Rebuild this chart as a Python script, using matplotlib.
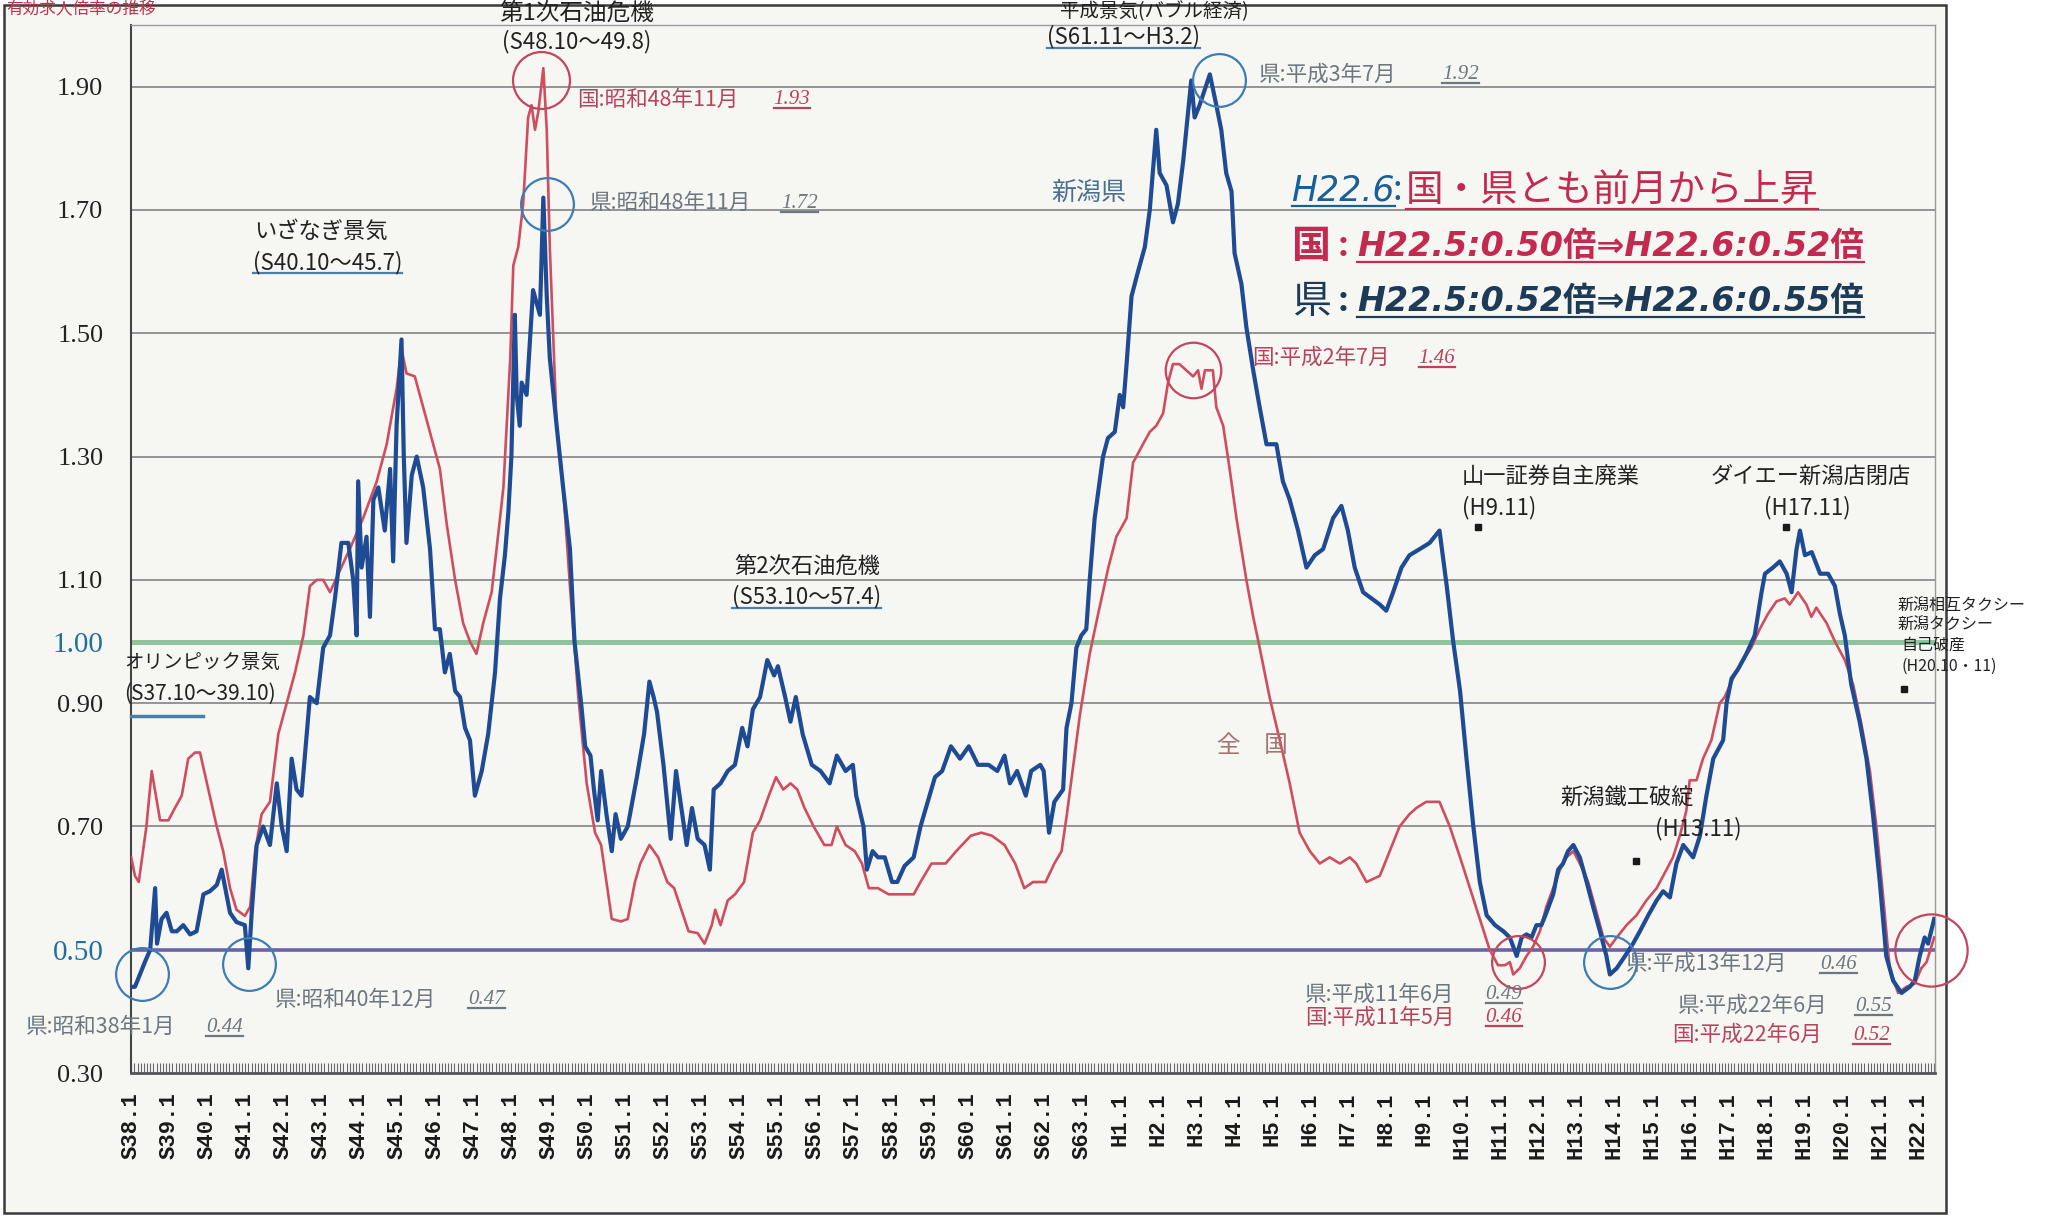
import numpy as np
import matplotlib
matplotlib.use("Agg")
import matplotlib.pyplot as plt
from matplotlib.lines import Line2D
from matplotlib.patches import Rectangle

plt.rcParams['font.family'] = ['Noto Sans CJK JP', 'DejaVu Sans']

# ---- data (fractional year, ratio) ----
niigata_t = [1963.00, 1963.10, 1963.36, 1963.50, 1963.63, 1963.68, 1963.80, 1963.93, 1964.07, 1964.20,
             1964.37, 1964.55, 1964.72, 1964.90, 1965.07, 1965.25, 1965.38, 1965.60, 1965.77, 1965.99,
             1966.08, 1966.17, 1966.30, 1966.47, 1966.65, 1966.83, 1966.96, 1967.09, 1967.22, 1967.35,
             1967.48, 1967.70, 1967.88, 1968.05, 1968.23, 1968.36, 1968.53, 1968.71, 1968.84, 1968.93,
             1968.97, 1969.06, 1969.19, 1969.28, 1969.37, 1969.50, 1969.67, 1969.81, 1969.89, 1969.98,
             1970.11, 1970.17, 1970.24, 1970.38, 1970.51, 1970.68, 1970.86, 1970.99, 1971.12, 1971.25,
             1971.38, 1971.52, 1971.65, 1971.78, 1971.91, 1972.04, 1972.22, 1972.39, 1972.57, 1972.70,
             1972.83, 1972.92, 1973.00, 1973.09, 1973.14, 1973.22, 1973.27, 1973.40, 1973.49, 1973.57,
             1973.75, 1973.84, 1973.93, 1974.01, 1974.19, 1974.36, 1974.54, 1974.66, 1974.85, 1974.94,
             1975.08, 1975.17, 1975.27, 1975.36, 1975.50, 1975.64, 1975.74, 1975.88, 1976.06, 1976.30,
             1976.49, 1976.63, 1976.74, 1976.83, 1977.00, 1977.19, 1977.33, 1977.47, 1977.61, 1977.75,
             1977.90, 1978.08, 1978.22, 1978.32, 1978.50, 1978.69, 1978.88, 1979.07, 1979.21, 1979.35,
             1979.54, 1979.73, 1979.91, 1980.01, 1980.20, 1980.34, 1980.48, 1980.66, 1980.90, 1981.13,
             1981.37, 1981.56, 1981.79, 1981.98, 1982.07, 1982.26, 1982.35, 1982.50, 1982.64, 1982.82,
             1983.01, 1983.15, 1983.34, 1983.58, 1983.76, 1983.95, 1984.14, 1984.33, 1984.56, 1984.80,
             1985.03, 1985.27, 1985.55, 1985.78, 1985.97, 1986.11, 1986.30, 1986.53, 1986.67, 1986.91,
             1987.00, 1987.14, 1987.28, 1987.51, 1987.60, 1987.73, 1987.86, 1987.99, 1988.12, 1988.21,
             1988.34, 1988.56, 1988.69, 1988.87, 1989.00, 1989.09, 1989.18, 1989.31, 1989.48, 1989.66,
             1989.79, 1989.96, 1990.05, 1990.23, 1990.40, 1990.53, 1990.67, 1990.80, 1990.88, 1990.97,
             1991.10, 1991.37, 1991.54, 1991.67, 1991.80, 1991.94, 1992.02, 1992.20, 1992.33, 1992.51,
             1992.68, 1992.86, 1993.12, 1993.29, 1993.47, 1993.69, 1993.91, 1994.13, 1994.35, 1994.61,
             1994.83, 1995.00, 1995.18, 1995.40, 1995.62, 1995.84, 1996.01, 1996.19, 1996.41, 1996.62,
             1996.89, 1997.15, 1997.41, 1997.60, 1997.77, 1997.95, 1998.12, 1998.30, 1998.47, 1998.65,
             1998.87, 1999.09, 1999.26, 1999.44, 1999.57, 1999.70, 1999.83, 1999.96, 2000.09, 2000.22,
             2000.40, 2000.53, 2000.66, 2000.79, 2000.93, 2001.10, 2001.28, 2001.45, 2001.63, 2001.80,
             2001.89, 2002.07, 2002.29, 2002.50, 2002.68, 2002.90, 2003.12, 2003.29, 2003.47, 2003.64,
             2003.82, 2004.08, 2004.26, 2004.43, 2004.61, 2004.87, 2004.96, 2005.09, 2005.26, 2005.48,
             2005.70, 2005.88, 2005.97, 2006.18, 2006.36, 2006.54, 2006.67, 2006.80, 2006.89, 2007.02,
             2007.20, 2007.42, 2007.63, 2007.81, 2007.94, 2008.07, 2008.24, 2008.46, 2008.64, 2008.81,
             2008.99, 2009.16, 2009.34, 2009.56, 2009.78, 2009.91, 2010.04, 2010.17, 2010.26, 2010.42]
niigata_v = [0.44, 0.44, 0.48, 0.50, 0.60, 0.51, 0.55, 0.56, 0.53, 0.53,
             0.54, 0.525, 0.53, 0.59, 0.595, 0.605, 0.63, 0.56, 0.545, 0.54,
             0.47, 0.56, 0.67, 0.70, 0.67, 0.77, 0.70, 0.66, 0.81, 0.76,
             0.75, 0.91, 0.90, 0.99, 1.01, 1.07, 1.16, 1.16, 1.10, 1.01,
             1.26, 1.12, 1.17, 1.04, 1.23, 1.25, 1.18, 1.28, 1.13, 1.35,
             1.49, 1.30, 1.16, 1.27, 1.30, 1.25, 1.15, 1.02, 1.02, 0.95,
             0.98, 0.92, 0.91, 0.86, 0.84, 0.75, 0.79, 0.85, 0.95, 1.07,
             1.14, 1.21, 1.30, 1.53, 1.40, 1.35, 1.42, 1.40, 1.49, 1.57,
             1.53, 1.72, 1.56, 1.46, 1.35, 1.25, 1.15, 1.00, 0.89, 0.83,
             0.815, 0.76, 0.71, 0.79, 0.72, 0.66, 0.72, 0.68, 0.70, 0.78,
             0.85, 0.935, 0.91, 0.886, 0.80, 0.68, 0.79, 0.73, 0.67, 0.73,
             0.68, 0.67, 0.63, 0.76, 0.77, 0.79, 0.80, 0.86, 0.83, 0.89,
             0.91, 0.97, 0.945, 0.96, 0.91, 0.87, 0.91, 0.85, 0.80, 0.79,
             0.77, 0.815, 0.79, 0.80, 0.75, 0.70, 0.63, 0.66, 0.65, 0.65,
             0.61, 0.61, 0.636, 0.65, 0.70, 0.74, 0.78, 0.79, 0.83, 0.81,
             0.83, 0.80, 0.80, 0.79, 0.815, 0.77, 0.79, 0.75, 0.79, 0.80,
             0.79, 0.69, 0.74, 0.76, 0.86, 0.90, 0.99, 1.01, 1.02, 1.10,
             1.20, 1.30, 1.33, 1.34, 1.40, 1.38, 1.45, 1.56, 1.60, 1.64,
             1.70, 1.83, 1.76, 1.74, 1.68, 1.71, 1.78, 1.86, 1.91, 1.85,
             1.87, 1.92, 1.87, 1.83, 1.76, 1.73, 1.63, 1.58, 1.51, 1.44,
             1.38, 1.32, 1.32, 1.26, 1.23, 1.18, 1.12, 1.14, 1.15, 1.20,
             1.22, 1.18, 1.12, 1.08, 1.07, 1.06, 1.05, 1.08, 1.12, 1.14,
             1.15, 1.16, 1.18, 1.09, 1.00, 0.92, 0.81, 0.70, 0.61, 0.556,
             0.54, 0.53, 0.52, 0.49, 0.52, 0.525, 0.52, 0.54, 0.54, 0.56,
             0.59, 0.63, 0.64, 0.66, 0.67, 0.65, 0.61, 0.57, 0.53, 0.49,
             0.46, 0.47, 0.49, 0.51, 0.53, 0.556, 0.58, 0.595, 0.585, 0.64,
             0.67, 0.65, 0.685, 0.75, 0.81, 0.84, 0.90, 0.94, 0.955, 0.98,
             1.01, 1.08, 1.11, 1.12, 1.13, 1.11, 1.08, 1.15, 1.18, 1.14,
             1.145, 1.11, 1.11, 1.09, 1.045, 1.01, 0.93, 0.87, 0.81, 0.72,
             0.61, 0.49, 0.45, 0.43, 0.44, 0.45, 0.49, 0.52, 0.51, 0.55]

zenkoku_t = [1963.00, 1963.10, 1963.20, 1963.40, 1963.54, 1963.76, 1963.98, 1964.15, 1964.33, 1964.50,
             1964.68, 1964.81, 1965.03, 1965.25, 1965.42, 1965.60, 1965.77, 1965.99, 1966.13, 1966.26,
             1966.43, 1966.65, 1966.87, 1967.09, 1967.31, 1967.53, 1967.70, 1967.88, 1968.05, 1968.23,
             1968.45, 1968.75, 1969.10, 1969.46, 1969.72, 1969.98, 1970.11, 1970.24, 1970.46, 1970.68,
             1970.90, 1971.12, 1971.30, 1971.52, 1971.73, 1971.91, 1972.08, 1972.26, 1972.48, 1972.61,
             1972.79, 1972.97, 1973.05, 1973.18, 1973.31, 1973.44, 1973.53, 1973.62, 1973.71, 1973.84,
             1973.93, 1974.01, 1974.19, 1974.36, 1974.54, 1974.76, 1974.98, 1975.20, 1975.36, 1975.64,
             1975.88, 1976.06, 1976.25, 1976.39, 1976.63, 1976.86, 1977.10, 1977.28, 1977.47, 1977.66,
             1977.90, 1978.08, 1978.27, 1978.36, 1978.50, 1978.69, 1978.88, 1979.12, 1979.35, 1979.54,
             1979.77, 1979.96, 1980.15, 1980.34, 1980.52, 1980.71, 1980.95, 1981.23, 1981.42, 1981.56,
             1981.79, 1982.03, 1982.22, 1982.40, 1982.64, 1982.92, 1983.29, 1983.58, 1983.76, 1984.05,
             1984.42, 1984.70, 1985.08, 1985.36, 1985.64, 1985.97, 1986.25, 1986.49, 1986.72, 1987.05,
             1987.28, 1987.47, 1987.61, 1987.78, 1987.95, 1988.21, 1988.45, 1988.70, 1988.91, 1989.18,
             1989.35, 1989.61, 1989.79, 1989.96, 1990.14, 1990.27, 1990.40, 1990.57, 1990.75, 1990.93,
             1991.06, 1991.15, 1991.24, 1991.45, 1991.54, 1991.72, 1991.89, 1992.07, 1992.33, 1992.51,
             1992.68, 1992.94, 1993.21, 1993.47, 1993.73, 1994.00, 1994.26, 1994.52, 1994.79, 1995.05,
             1995.22, 1995.49, 1995.84, 1996.10, 1996.36, 1996.62, 1996.80, 1997.06, 1997.41, 1997.68,
             1997.95, 1998.21, 1998.47, 1998.73, 1998.95, 1999.13, 1999.26, 1999.35, 1999.52, 1999.70,
             1999.87, 2000.05, 2000.22, 2000.40, 2000.58, 2000.75, 2000.93, 2001.10, 2001.32, 2001.50,
             2001.72, 2001.89, 2002.07, 2002.33, 2002.59, 2002.85, 2003.12, 2003.38, 2003.55, 2003.73,
             2003.90, 2003.99, 2004.17, 2004.34, 2004.56, 2004.78, 2004.91, 2005.13, 2005.40, 2005.61,
             2005.83, 2006.05, 2006.27, 2006.49, 2006.62, 2006.84, 2007.06, 2007.19, 2007.32, 2007.59,
             2007.81, 2008.07, 2008.29, 2008.51, 2008.73, 2008.90, 2009.08, 2009.25, 2009.47, 2009.69,
             2009.91, 2010.08, 2010.22, 2010.42]
zenkoku_v = [0.65, 0.62, 0.61, 0.70, 0.79, 0.71, 0.71, 0.73, 0.75, 0.81,
             0.82, 0.82, 0.76, 0.70, 0.66, 0.60, 0.565, 0.555, 0.57, 0.66,
             0.72, 0.74, 0.85, 0.90, 0.95, 1.01, 1.09, 1.10, 1.10, 1.08,
             1.11, 1.15, 1.20, 1.26, 1.32, 1.41, 1.475, 1.435, 1.43, 1.38,
             1.33, 1.28, 1.19, 1.10, 1.03, 1.00, 0.98, 1.03, 1.08, 1.15,
             1.25, 1.46, 1.61, 1.64, 1.71, 1.85, 1.87, 1.83, 1.86, 1.93,
             1.83, 1.64, 1.35, 1.25, 1.09, 0.91, 0.77, 0.69, 0.67, 0.55,
             0.546, 0.55, 0.61, 0.64, 0.67, 0.65, 0.61, 0.60, 0.565, 0.53,
             0.527, 0.51, 0.54, 0.565, 0.54, 0.58, 0.59, 0.61, 0.69, 0.71,
             0.75, 0.78, 0.76, 0.77, 0.76, 0.73, 0.70, 0.67, 0.67, 0.70,
             0.67, 0.66, 0.64, 0.60, 0.60, 0.59, 0.59, 0.59, 0.61, 0.64,
             0.64, 0.66, 0.685, 0.69, 0.685, 0.67, 0.64, 0.60, 0.61, 0.61,
             0.64, 0.66, 0.72, 0.80, 0.88, 0.98, 1.05, 1.12, 1.17, 1.20,
             1.29, 1.32, 1.34, 1.35, 1.37, 1.42, 1.45, 1.45, 1.44, 1.43,
             1.44, 1.41, 1.44, 1.44, 1.38, 1.35, 1.28, 1.20, 1.10, 1.04,
             0.99, 0.91, 0.84, 0.77, 0.69, 0.66, 0.64, 0.65, 0.64, 0.65,
             0.64, 0.61, 0.62, 0.66, 0.70, 0.72, 0.73, 0.74, 0.74, 0.70,
             0.65, 0.60, 0.55, 0.50, 0.475, 0.475, 0.48, 0.46, 0.47, 0.49,
             0.505, 0.53, 0.57, 0.60, 0.63, 0.65, 0.66, 0.64, 0.61, 0.57,
             0.52, 0.505, 0.52, 0.54, 0.556, 0.58, 0.60, 0.63, 0.65, 0.685,
             0.725, 0.775, 0.775, 0.81, 0.84, 0.90, 0.91, 0.94, 0.97, 0.99,
             1.02, 1.045, 1.065, 1.07, 1.06, 1.08, 1.06, 1.04, 1.055, 1.03,
             1.00, 0.97, 0.93, 0.865, 0.79, 0.70, 0.585, 0.47, 0.43, 0.44,
             0.445, 0.47, 0.48, 0.52]

years = list(range(1963, 2011))
year_labels = ["S38.1", "S39.1", "S40.1", "S41.1", "S42.1", "S43.1", "S44.1", "S45.1", "S46.1", "S47.1",
               "S48.1", "S49.1", "S50.1", "S51.1", "S52.1", "S53.1", "S54.1", "S55.1", "S56.1", "S57.1",
               "S58.1", "S59.1", "S60.1", "S61.1", "S62.1", "S63.1", "H1.1", "H2.1", "H3.1", "H4.1",
               "H5.1", "H6.1", "H7.1", "H8.1", "H9.1", "H10.1", "H11.1", "H12.1", "H13.1", "H14.1",
               "H15.1", "H16.1", "H17.1", "H18.1", "H19.1", "H20.1", "H21.1", "H22.1"]
y_ticks = [0.30, 0.50, 0.70, 0.90, 1.00, 1.10, 1.30, 1.50, 1.70, 1.90]
y_labels = ["0.30", "0.50", "0.70", "0.90", "1.00", "1.10", "1.30", "1.50", "1.70", "1.90"]

# circled extremes and event markers
circle_t = [1963.28, 1966.10, 1973.93, 1991.62, 2001.90, 1973.79, 1990.93, 1999.48, 2010.34]
circle_v = [0.46, 0.477, 1.71, 1.91, 0.48, 1.91, 1.44, 0.48, 0.50]
circle_c = ['b', 'b', 'b', 'b', 'b', 'r', 'r', 'r', 'r']
circle_ms = [38, 38, 38, 38, 38, 41, 40, 38, 52]
event_t = [1998.41, 2006.52, 2009.62, 2002.59]
event_v = [1.185, 1.185, 0.923, 0.644]

RED = '#cf4d5f'
BLUE = '#1f4a94'
BG = '#f6f7f3'
CRIM = '#c42a50'
NAVY = '#1d3a56'
GRAYT = '#6c777f'
REDT = '#b8435a'

fig = plt.figure(figsize=(20.56, 12.2), dpi=100, facecolor='white')
fig.add_artist(Rectangle((0.002, 0.006), 0.9444, 0.990, transform=fig.transFigure,
                         facecolor=BG, edgecolor='#3a3a3a', lw=1.8, zorder=-5))
ax = fig.add_axes([0.0638, 0.1204, 0.8775, 0.8591])
ax.set_facecolor(BG)
ax.set_xlim(1963.0, 2010.45)
ax.set_ylim(0.30, 2.0)

for lv in [0.7, 0.9, 1.1, 1.3, 1.5, 1.7, 1.9]:
    ax.axhline(lv, color='#8c8c8c', lw=1.3, zorder=1)
ax.axhline(1.0, color='#8fc39c', lw=3.6, zorder=1)
ax.axhline(0.5, color='#6c62a6', lw=2.6, zorder=1)

ax.plot(zenkoku_t, zenkoku_v, color=RED, lw=1.9, zorder=3)
ax.plot(niigata_t, niigata_v, color=BLUE, lw=3.0, zorder=4)

for t, v, c, ms in zip(circle_t, circle_v, circle_c, circle_ms):
    ax.plot(t, v, 'o', mfc='none', mec='#3d7db3' if c == 'b' else '#c4455e',
            ms=ms, mew=1.6, zorder=5, clip_on=False)
ax.plot(event_t, event_v, 's', color='#1a1a1a', ms=5, zorder=5)

# axes styling
for s in ['top', 'right']:
    ax.spines[s].set_color('#9a9a9a')
    ax.spines[s].set_linewidth(1.0)
ax.spines['left'].set_color('#444444')
ax.spines['left'].set_linewidth(1.5)
ax.spines['bottom'].set_color('#555555')
ax.spines['bottom'].set_linewidth(2.0)

ax.set_xticks(years)
ax.set_xticklabels(year_labels, rotation=90, family='Liberation Mono', fontweight='bold',
                   fontsize=16, color='#1a1a1a')
ax.set_xticks(np.arange(1963, 2010.45, 1 / 12), minor=True)
ax.tick_params(axis='x', which='both', direction='in', length=7, width=0.8, color='#666666', pad=14)

ax.set_yticks(y_ticks)
ax.set_yticklabels(y_labels, family='Liberation Serif', fontsize=19)
ax.tick_params(axis='y', length=0, pad=20)
for lab in ax.get_yticklabels():
    if lab.get_text() in ("1.00", "0.50"):
        lab.set_color('#1f6f9f')
        lab.set_fontsize(21)
    else:
        lab.set_color('#222222')


def P(x, y):
    # position in the 1568x930 reference frame -> figure fraction
    return x / 1568, 1 - y / 930


under = []


def txt(x, y, s, ul=None, **kw):
    kw.setdefault('va', 'center')
    t = fig.text(*P(x, y), s, **kw)
    if ul:
        under.append((t, ul))
    return t


# title at the top edge of the scan
fig.text(0.003, 0.999, "有効求人倍率の推移", color='#c0304a', fontsize=12, va='top')

# business-cycle labels
txt(440, 10, "第1次石油危機", ha='center', fontsize=17, color='#222')
txt(440, 32, "(S48.10～49.8)", ha='center', fontsize=16, color='#222')
txt(245, 176, "いざなぎ景気", ha='center', fontsize=16, color='#222')
txt(250, 200, "(S40.10～45.7)", ul='#4a7fa8', ha='center', fontsize=16, color='#222')
txt(880, 1, "平成景気(バブル経済)", ha='center', va='top', fontsize=14, color='#222')
txt(857, 28, "(S61.11～H3.2)", ul='#4a7fa8', ha='center', fontsize=16, color='#222')
txt(560, 432, "第2次石油危機", fontsize=16, color='#222')
txt(558, 455, "(S53.10～57.4)", ul='#4a7fa8', fontsize=16, color='#222')
txt(95, 505, "オリンピック景気", fontsize=14, color='#222')
txt(95, 529, "(S37.10～39.10)", fontsize=15, color='#222')
fig.add_artist(Line2D([100 / 1568, 155 / 1568], [1 - 546 / 930] * 2, color='#4a7fa8', lw=2.5))

# event labels
txt(1115, 363, "山一証券自主廃業", fontsize=16, color='#222')
txt(1115, 387, "(H9.11)", fontsize=16, color='#222')
txt(1305, 363, "ダイエー新潟店閉店", fontsize=16, color='#222')
txt(1345, 387, "(H17.11)", fontsize=16, color='#222')
txt(1190, 608, "新潟鐵工破綻", fontsize=16, color='#222')
txt(1262, 632, "(H13.11)", fontsize=16, color='#222')
txt(1447, 462, "新潟相互タクシー", fontsize=11.5, color='#222')
txt(1447, 477, "新潟タクシー", fontsize=11.5, color='#222')
txt(1450, 492, "自己破産", fontsize=11.5, color='#222')
txt(1450, 508, "(H20.10・11)", fontsize=11.5, color='#222')

txt(830, 147, "新潟県", ha='center', fontsize=18, color='#4a6f90')
txt(955, 568, "全　国", ha='center', fontsize=17, color='#a77272')

# extreme-value notes
notes = [
    (440, 76, "国:昭和48年11月", 590, "1.93", REDT),
    (450, 155, "県:昭和48年11月", 596, "1.72", GRAYT),
    (960, 57, "県:平成3年7月", 1100, "1.92", GRAYT),
    (955, 273, "国:平成2年7月", 1082, "1.46", REDT),
    (995, 758, "県:平成11年6月", 1133, "0.49", GRAYT),
    (995, 776, "国:平成11年5月", 1133, "0.46", REDT),
    (1240, 735, "県:平成13年12月", 1388, "0.46", GRAYT),
    (1280, 767, "県:平成22年6月", 1415, "0.55", GRAYT),
    (1275, 789, "国:平成22年6月", 1413, "0.52", REDT),
    (210, 762, "県:昭和40年12月", 357, "0.47", GRAYT),
    (20, 783, "県:昭和38年1月", 157, "0.44", GRAYT),
]
for x, y, lab, xv, val, col in notes:
    txt(x, y, lab, fontsize=15.5, color=col)
    txt(xv, y, val, ul=col, fontsize=15, color=col, family='Liberation Serif', style='italic')

# highlighted box text
txt(985, 145, "H22.6", ul='#1a5f98', fontsize=25, color='#1a5f98', family='DejaVu Sans', style='oblique')
txt(1062, 145, ":", fontsize=25, color='#1a5f98')
txt(1072, 145, "国・県とも前月から上昇", ul=CRIM, fontsize=27, color=CRIM)
txt(985, 188, "国", fontsize=28, color=CRIM, fontweight='bold')
txt(1020, 188, ":", fontsize=24, color=CRIM, fontweight='bold')
txt(1035, 188, "H22.5:0.50倍⇒H22.6:0.52倍", ul=CRIM, fontsize=24, color=CRIM,
    family=['DejaVu Sans', 'Noto Sans CJK JP'], style='oblique', fontweight='bold')
txt(985, 230, "県", fontsize=28, color=NAVY)
txt(1020, 230, ":", fontsize=24, color=NAVY, fontweight='bold')
txt(1035, 230, "H22.5:0.52倍⇒H22.6:0.55倍", ul=NAVY, fontsize=24, color=NAVY,
    family=['DejaVu Sans', 'Noto Sans CJK JP'], style='oblique', fontweight='bold')

# underlines measured from the rendered text
fig.canvas.draw()
rend = fig.canvas.get_renderer()
W, H = fig.bbox.width, fig.bbox.height
for t, col in under:
    bb = t.get_window_extent(rend)
    yy = (bb.y0 + 1) / H
    fig.add_artist(Line2D([bb.x0 / W, bb.x1 / W], [yy, yy], color=col, lw=1.6))

fig.savefig("out.png", dpi=100, facecolor='white')
